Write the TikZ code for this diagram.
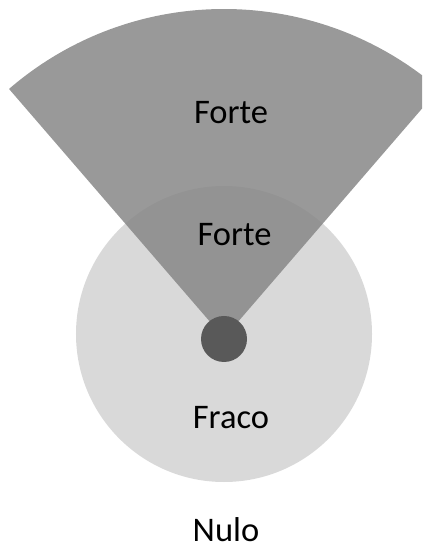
\documentclass[tikz,border=0pt]{standalone}
\usepackage{fontspec}
\setmainfont{Carlito}
\definecolor{ringgray}{HTML}{D9D9D9}
\definecolor{beamgray}{RGB}{134,134,134}
\definecolor{dotgray}{HTML}{595959}
\tikzset{
  lbl/.style={anchor=base, inner sep=0pt, text=black, font=\fontsize{34.5bp}{40bp}\selectfont}
}
\begin{document}
\begin{tikzpicture}[x=1bp,y=1bp]
\useasboundingbox (0,0) rectangle (422,550);
\clip (0,0) rectangle (422,550);
% weak zone circle
\fill[ringgray] (224,216) circle[radius=148bp];
% strong beam sector
\fill[beamgray, fill opacity=0.84] (224,212) -- ++(130.8:329bp) arc[start angle=130.8, end angle=49.2, radius=329bp] -- cycle;
% antenna dot
\fill[dotgray] (224,211) circle[radius=23bp];
% labels
\node[lbl] (forteA) at (231,426) {Forte};
\node[lbl] (forteB) at (234.5,304) {Forte};
\node[lbl] (fraco) at (231,121) {Fraco};
\node[lbl] (nulo) at (226,8.5) {Nulo};
\end{tikzpicture}
\end{document}
